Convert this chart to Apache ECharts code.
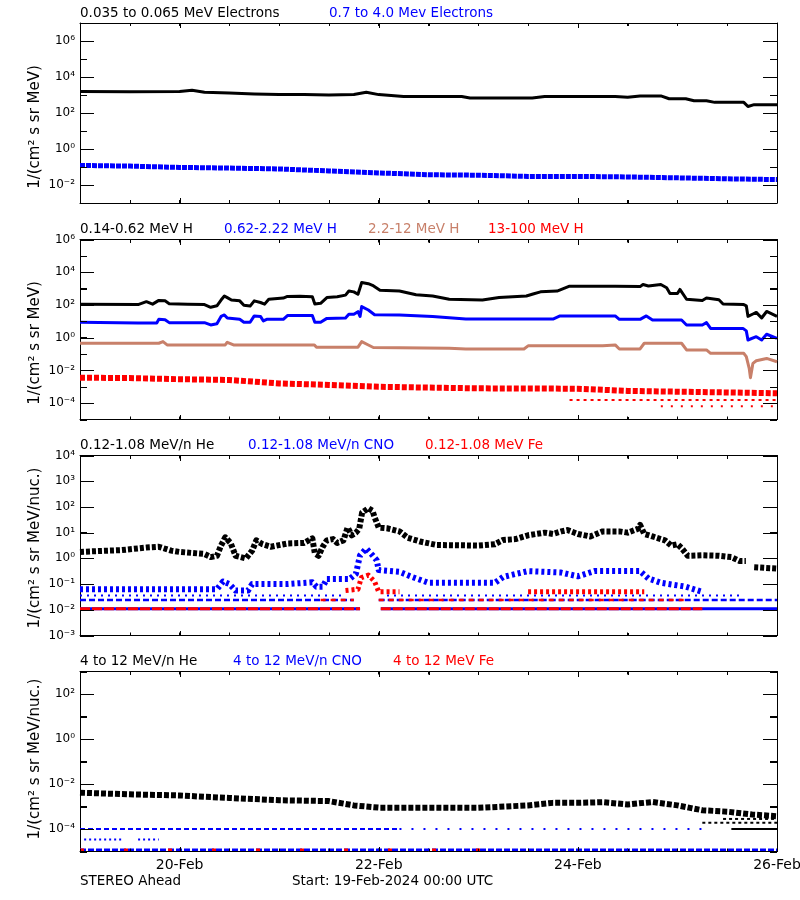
<!DOCTYPE html>
<html><head><meta charset="utf-8">
<script src="https://cdn.jsdelivr.net/npm/echarts@6/dist/echarts.min.js"></script>
<style>html,body{margin:0;padding:0;background:#fff}#c{width:800px;height:900px}</style>
</head><body><div id="c"></div>
<script>
// ---------------- DATA (hours since 19-Feb-2024 00:00 UTC, flux) ----------------
const xTickLabels = {24:'20-Feb',72:'22-Feb',120:'24-Feb',168:'26-Feb'};
const panelTitles = [
  ['0.035 to 0.065 MeV Electrons','0.7 to 4.0 Mev Electrons'],
  ['0.14-0.62 MeV H','0.62-2.22 MeV H','2.2-12 MeV H','13-100 MeV H'],
  ['0.12-1.08 MeV/n He','0.12-1.08 MeV/n CNO','0.12-1.08 MeV Fe'],
  ['4 to 12 MeV/n He','4 to 12 MeV/n CNO','4 to 12 MeV Fe']
];
const yNames = ['1/(cm² s sr MeV)','1/(cm² s sr MeV)','1/(cm² s sr MeV/nuc.)','1/(cm² s sr MeV/nuc.)'];
const footLeft = 'STEREO Ahead';
const footStart = 'Start: 19-Feb-2024 00:00 UTC';

const elecLow = [[0,1580],[12,1510],[24,1580],[27,1820],[30,1410],[36,1290],[42,1150],[48,1070],[54,1050],[60,1000],[66,1070],[69,1410],[72,1050],[78,830],[92,830],[94,680],[109,680],[112,830],[129,830],[132,740],[135,890],[140,890],[142,620],[146,620],[148,480],[151,480],[153,390],[160,390],[161,230],[162.5,290],[168,290]];
const elecHigh = [[0,0.123],[12,0.112],[24,0.095],[36,0.087],[48,0.078],[60,0.060],[72,0.047],[84,0.037],[96,0.035],[108,0.030],[120,0.030],[132,0.028],[144,0.025],[156,0.022],[168,0.020]];

const hLow = [[0,110],[14,105],[16,158],[17.5,112],[19,190],[20.5,178],[21.5,120],[26,112],[30,105],[31.5,72],[33,89],[34,200],[34.8,355],[35.5,282],[36.5,200],[38.5,178],[39.5,95],[41,85],[42,178],[43.5,141],[44.5,112],[45.5,224],[49,263],[50,331],[53,339],[56,316],[56.6,115],[58,126],[59.5,282],[62,316],[64,398],[64.8,708],[66,631],[67,447],[67.9,2340],[69.5,2000],[70.5,1580],[72.3,794],[77,708],[81,417],[85,355],[89,224],[97,200],[101,282],[107.6,355],[109.2,468],[111,631],[115,708],[116.5,1000],[118,1410],[129,1410],[135,1320],[135.7,1780],[137,1450],[140,1780],[141.4,1120],[142.2,501],[144,501],[144.6,891],[146.2,224],[150,186],[151,263],[154,209],[155,115],[160,105],[160.6,89],[161,20],[162.2,28],[163,35],[164.3,16],[165.5,40],[168,20]];
const hMid = [[0,8.7],[14,7.9],[18.5,7.9],[19,13.2],[20.5,12.6],[21.5,8.3],[30,8.3],[31.5,6.0],[33,7.1],[34,20],[34.8,24.5],[35.5,15.8],[38.5,13.2],[39.5,8.7],[41,8.7],[42,21.4],[43.5,20],[44.2,10.5],[45,13.2],[49,13.2],[50,22.4],[56,22.4],[56.6,8.7],[58,8.7],[59.5,15.1],[64,15.8],[64.8,26.9],[66,26.9],[67,38.9],[67.5,20],[67.9,79.4],[69.5,49],[71,25.1],[77,24.5],[85,19.5],[93,13.8],[114,13.8],[115.7,21.4],[129,21.4],[130,13.2],[135,13.2],[136.5,21.4],[138,12],[145,12],[146.2,6.0],[150,6.0],[151,8.3],[152,3.7],[159.8,3.7],[160.6,2.6],[161,0.72],[163,1.15],[164.3,0.72],[165.5,1.62],[168,0.91]];
const hHigh = [[0,0.457],[19,0.457],[20,0.575],[21,0.363],[35,0.363],[35.5,0.525],[37,0.363],[56.5,0.363],[57,0.263],[67,0.263],[67.9,0.575],[69.5,0.355],[70.7,0.251],[77,0.24],[89,0.229],[93,0.204],[107,0.204],[108,0.316],[126,0.316],[129,0.363],[130,0.204],[135,0.204],[136,0.457],[145,0.457],[146.2,0.178],[151,0.178],[152,0.11],[160,0.11],[160.6,0.069],[161.3,0.0135],[161.6,0.0036],[162.2,0.027],[163,0.039],[165.5,0.054],[168,0.034]];
const hTop = [[0,0.0036],[12,0.0034],[24,0.0029],[36,0.0026],[48,0.0016],[60,0.0013],[72,0.001],[84,0.00089],[96,0.0008],[108,0.00079],[120,0.00076],[132,0.00056],[144,0.0005],[156,0.00045],[168,0.0004]];
const hTopFloorA = {level:1.55e-4, segs:[[118,168]]};
const hTopFloorB = {level:6.5e-5, segs:[[140,168]]};

const heLow = [[0,1.78],[4,1.91],[10,2.09],[16,2.63],[19,2.82],[22,2.0],[24,1.78],[30,1.48],[31.5,1.12],[33,1.26],[34,3.16],[35,6.6],[36.3,3.98],[37.5,1.26],[40,1.0],[41.5,2.0],[42.5,5.0],[44,3.55],[46,2.82],[50,3.8],[54,3.98],[56,6.0],[56.6,1.58],[57.5,1.26],[58.5,2.82],[59.5,5.0],[61,5.6],[62,3.98],[63.5,5.0],[64.5,15.8],[65.5,7.9],[66.5,10],[67.3,14.1],[68,60],[69.5,89],[70.5,71],[71,40],[72,15.8],[74,14.8],[77,11.2],[79,6.3],[82,4.5],[86,3.3],[96,3.16],[100,3.55],[102,5.2],[105,5.6],[108,7.9],[112,10],[114,8.9],[116,11.2],[117.5,12.6],[120,8.9],[123,7.1],[126,11.2],[130,11.2],[132,10],[134.5,14.1],[135,20],[136,8.9],[138,7.1],[141,5.0],[142.5,3.16],[144,3.55],[145,2.51],[146.5,1.26],[150,1.32],[154,1.26],[157,1.12],[159,0.79],[160.5,0.79],null,[162.5,0.45],[168,0.4]];
const cnoLow = [[0,0.063],[33,0.063],[34.5,0.126],[36,0.1],[37.5,0.056],[40.5,0.056],[41.5,0.1],[50,0.1],[56,0.117],[57,0.079],[58.5,0.079],[59.5,0.158],[65,0.158],[66.5,0.25],[67.5,1.32],[69,2.4],[70.5,1.32],[71.5,0.85],[72,0.35],[77,0.30],[80,0.19],[84,0.112],[100,0.112],[102,0.19],[108,0.32],[116,0.28],[120,0.2],[124,0.32],[135,0.32],[137,0.166],[140,0.112],[146,0.079],[150,0.05]];
const feLow = [[64,0.056],[67,0.063],[67.8,0.178],[69.5,0.224],[71,0.126],[72,0.05],[77,0.05],null,[108,0.05],[136,0.05]];
const lowFloor1 = {level:0.011, cnoSegs:[[0,67.5],[72.5,168]], feSegs:[[0,67.5],[72.5,150]]};
const lowFloor2 = {level:0.024, cnoSegs:[[0,66],[72,168]], feSegs:[[58,66],[72,146]]};
const lowFloor3 = {level:0.036, cnoSegs:[[0,64],[74,160]]};

const heHigh = [[0,0.0041],[12,0.00347],[24,0.0031],[30,0.0027],[36,0.0024],[48,0.0019],[60,0.00174],[66,0.00112],[72,0.00089],[84,0.00089],[96,0.00087],[108,0.00112],[114,0.00145],[120,0.00145],[126,0.00155],[132,0.00123],[138,0.00158],[144,0.00112],[150,0.00068],[156,0.00059],[162,0.00044],[168,0.00037]];
const highCnoFloor1 = {level:1.2e-5, segs:[[0,168]]};
const highFeFloor1 = {level:1.2e-5, segs:[[0,100]]};
const highCnoFloor2 = {level:3.4e-5, segs:[[1,10],[14,19]]};
const highCnoFloor3 = {level:1.0e-4, dense:[[0,77]], sparse:[[77,150]]};
const highHeFloors = [{level:1.0e-4, segs:[[157,168]]},{level:1.9e-4, segs:[[150,168]]},{level:2.8e-4, segs:[[155,168]]}];

// ---------------- LAYOUT / STYLE ----------------
const FONT = '"DejaVu Sans", sans-serif';
const COL = {blk:'#000000', blu:'#0000ff', red:'#ff0000', sie:'#c8806a'};
const gridTop = [23, 239.5, 455.5, 671.5];
const GL = 80, GW = 697, GH = 180;
const yExt = [[-3,7],[-5,6],[-3,4],[-5,3]];
const yMajor = [[-2,0,2,4,6],[-4,-2,0,2,4,6],[-3,-2,-1,0,1,2,3,4],[-4,-2,0,2]];
const xMajor = [24,72,120,168];
const titleX = [[80,329],[80,224,368,488],[80,248,425],[80,233,393]];
const titleC = [[COL.blk,COL.blu],[COL.blk,COL.blu,COL.sie,COL.red],[COL.blk,COL.blu,COL.red],[COL.blk,COL.blu,COL.red]];
const nameY = [127, 343, 548, 759];

function sup(n){const m={'-':'⁻','0':'⁰','1':'¹','2':'²','3':'³','4':'⁴','5':'⁵','6':'⁶','7':'⁷','8':'⁸','9':'⁹'};return String(n).split('').map(c=>m[c]||c).join('');}
const L = v => Math.log10(v);
const isInt = v => Math.abs(v - Math.round(v)) < 1e-6;

const xAxes = [], yAxes = [];
for (let g = 0; g < 4; g++) {
  const xb = {gridIndex:g, type:'value', min:0, max:168, interval:12, splitLine:{show:false},
    axisTick:{show:true, inside:true, length:3, lineStyle:{color:'#000', width:1}},
    axisLine:{show:true,onZero:false,lineStyle:{color:'#000',width:1}}};
  xAxes.push(Object.assign({}, xb, {position:'bottom',
    axisLabel:(g===3) ? {show:true, showMinLabel:true, showMaxLabel:true, hideOverlap:false,
      formatter:v=>{const r=Math.round(v); return (isInt(v) && xTickLabels[r]) ? xTickLabels[r] : '';},
      color:'#000',fontFamily:FONT,fontSize:14,margin:7} : {show:false}}));
  xAxes.push(Object.assign({}, xb, {position:'top', axisLabel:{show:false}}));
  const yb = {gridIndex:g, type:'value', min:yExt[g][0], max:yExt[g][1], interval:1, splitLine:{show:false},
    axisTick:{show:true, inside:true, length:7, lineStyle:{color:'#000', width:1}},
    axisLine:{show:true,onZero:false,lineStyle:{color:'#000',width:1}}};
  yAxes.push(Object.assign({}, yb, {position:'left',
    axisLabel:{show:true, showMinLabel:true, showMaxLabel:true, hideOverlap:false,
      formatter:v=>{const r=Math.round(v); return (isInt(v) && yMajor[g].indexOf(r)>=0) ? '10'+sup(r) : '';},
      color:'#000',fontFamily:FONT,fontSize:12,margin:5}}));
  yAxes.push(Object.assign({}, yb, {position:'right', axisLabel:{show:false}}));
}

function trace(g, pts, color, width, dash, z) {
  return {type:'line', xAxisIndex:g*2, yAxisIndex:g*2,
    data: pts.map(p => p == null ? [null, null] : [p[0], L(p[1])]),
    showSymbol:false, symbol:'none', connectNulls:false, animation:false, silent:true, z:z||3,
    lineStyle:{color, width, type:dash||'solid', join:'round', cap:'butt'}};
}
function floorLine(g, level, segs, color, width, dash, z) {
  const d = [];
  segs.forEach(s => { d.push([s[0], L(level)], [s[1], L(level)], [s[1], null]); });
  return {type:'line', xAxisIndex:g*2, yAxisIndex:g*2, data:d,
    showSymbol:false, symbol:'none', connectNulls:false, animation:false, silent:true, z:z||2,
    lineStyle:{color, width, type:dash, cap:'butt'}};
}

const series = [
  trace(0, elecLow, COL.blk, 3),
  trace(0, elecHigh, COL.blu, 5, [5,1]),
  floorLine(1, hTopFloorA.level, hTopFloorA.segs, COL.red, 2, [3,4]),
  floorLine(1, hTopFloorB.level, hTopFloorB.segs, COL.red, 2, [2,8]),
  trace(1, hTop, COL.red, 6, [5,2]),
  trace(1, hHigh, COL.sie, 3),
  trace(1, hMid, COL.blu, 3),
  trace(1, hLow, COL.blk, 3),
  floorLine(2, lowFloor1.level, lowFloor1.cnoSegs, COL.blu, 3, 'solid'),
  floorLine(2, lowFloor1.level, lowFloor1.feSegs, COL.red, 3, [10,2]),
  floorLine(2, lowFloor2.level, lowFloor2.cnoSegs, COL.blu, 2.5, [6,3]),
  floorLine(2, lowFloor2.level, lowFloor2.feSegs, COL.red, 2.5, [5,5]),
  floorLine(2, lowFloor3.level, lowFloor3.cnoSegs, COL.blu, 2, [2,5]),
  trace(2, cnoLow, COL.blu, 6, [3,3]),
  trace(2, feLow, COL.red, 5, [3,3]),
  trace(2, heLow, COL.blk, 6, [4,2], 4),
  floorLine(3, highCnoFloor1.level, highCnoFloor1.segs, COL.blu, 2.5, [6,2]),
  floorLine(3, highFeFloor1.level, highFeFloor1.segs, COL.red, 2.5, [4,40]),
  floorLine(3, highCnoFloor2.level, highCnoFloor2.segs, COL.blu, 2, [2,3]),
  floorLine(3, highCnoFloor3.level, highCnoFloor3.dense, COL.blu, 2, [5,3]),
  floorLine(3, highCnoFloor3.level, highCnoFloor3.sparse, COL.blu, 2, [2,10]),
  ...highHeFloors.map((f,i) => floorLine(3, f.level, f.segs, COL.blk, 2, i===0?'solid':[3,3])),
  trace(3, heHigh, COL.blk, 6, [5,2], 4)
];

const graphic = [];
panelTitles.forEach((arr, g) => arr.forEach((t, i) => {
  graphic.push({type:'text', x:titleX[g][i], y:gridTop[g]-10, silent:true,
    style:{text:t, fill:titleC[g][i], font:'13.5px '+FONT, align:'left', verticalAlign:'middle'}});
}));
yNames.forEach((t, g) => {
  graphic.push({type:'text', x:35, y:nameY[g], rotation:Math.PI/2, silent:true,
    style:{text:t, fill:'#000', font:'15px '+FONT, align:'center', verticalAlign:'middle'}});
});
graphic.push({type:'text', x:80, y:881, silent:true, style:{text:footLeft, fill:'#000', font:'13.5px '+FONT, align:'left', verticalAlign:'middle'}});
graphic.push({type:'text', x:292, y:881, silent:true, style:{text:footStart, fill:'#000', font:'13.5px '+FONT, align:'left', verticalAlign:'middle'}});

const chart = echarts.init(document.getElementById('c'), null, {renderer:'canvas'});
chart.setOption({
  animation:false,
  grid: gridTop.map(t => ({left:GL, top:t, width:GW, height:GH, containLabel:false, outerBoundsMode:'none'})),
  xAxis: xAxes,
  yAxis: yAxes,
  series: series,
  graphic: graphic
});

// Tick marks as polylines, placed through each grid's own scales (pixel-aligned via convertFromPixel)
const tickSeries = [];
for (let g = 0; g < 4; g++) {
  const f = {xAxisIndex:g*2, yAxisIndex:g*2};
  const bl = chart.convertToPixel(f, [0, yExt[g][0]]);
  const tr = chart.convertToPixel(f, [168, yExt[g][1]]);
  const left = Math.round(bl[0]), right = Math.round(tr[0]);
  const bottom = Math.round(bl[1]), top = Math.round(tr[1]);
  const pts = [];
  const seg = (x1,y1,x2,y2) => { pts.push(chart.convertFromPixel(f,[x1,y1]), chart.convertFromPixel(f,[x2,y2]), [null,null]); };
  for (let e = yExt[g][0]; e <= yExt[g][1]; e++) {
    const py = Math.round(chart.convertToPixel(f, [0, e])[1]) + 0.5;
    const len = yMajor[g].indexOf(e) >= 0 ? 14 : 7;
    seg(left, py, left + len, py);
    seg(right - len, py, right, py);
  }
  for (let h = 0; h <= 168; h += 12) {
    const px = Math.round(chart.convertToPixel(f, [h, yExt[g][0]])[0]) + 0.5;
    const len = xMajor.indexOf(h) >= 0 ? 5 : 3;
    seg(px, bottom, px, bottom - len);
    seg(px, top, px, top + len);
  }
  tickSeries.push({type:'line', xAxisIndex:g*2, yAxisIndex:g*2, data:pts, showSymbol:false, symbol:'none',
    connectNulls:false, clip:false, z:10, silent:true, animation:false,
    lineStyle:{color:'#000', width:1, type:'solid', cap:'butt'}});
}
chart.setOption({series: series.concat(tickSeries)});
</script>
</body></html>
